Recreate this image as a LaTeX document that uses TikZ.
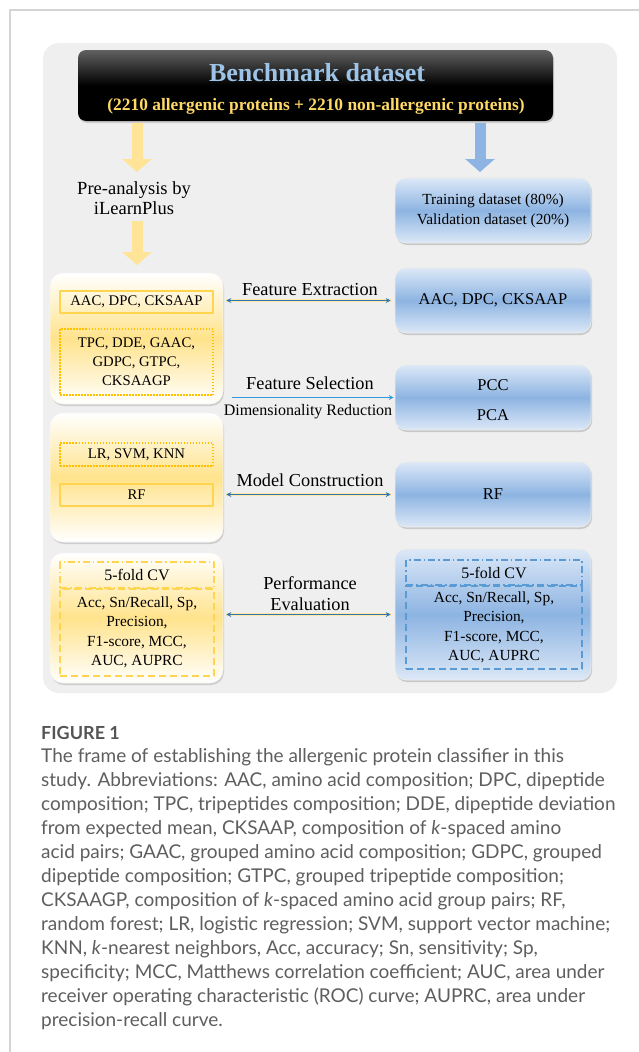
\documentclass[tikz,border=0pt]{standalone}
\usepackage{fontspec}
\setmainfont{Liberation Serif}
\newfontfamily\capfont{Lato}
\usetikzlibrary{arrows.meta,shadows}
\definecolor{panelgray}{HTML}{EFEFEF}
\definecolor{frameline}{HTML}{D4D4D4}
\definecolor{benchblue}{HTML}{9DC3E6}
\definecolor{benchgold}{HTML}{FFD966}
\definecolor{arrowY}{HTML}{FFE497}
\definecolor{arrowB}{HTML}{8EB4E3}
\definecolor{boxY}{HTML}{FFE38C}
\definecolor{boxBtop}{HTML}{DCE8F7}
\definecolor{boxBmid}{HTML}{8DB4E2}
\definecolor{lineY}{HTML}{FFD54F}
\definecolor{dotY}{HTML}{FFC000}
\definecolor{dashB}{HTML}{5B9BD5}
\definecolor{linkblue}{HTML}{2E75B6}
\definecolor{selblue}{HTML}{2F9BDD}
\definecolor{glowY}{HTML}{FFE8A3}
\definecolor{captext}{HTML}{5E5E5E}
\begin{document}
\begin{tikzpicture}[x=1pt,y=-1pt,line join=round,
    ybox/.style={rounded corners=13pt,top color=white,bottom color=white,middle color=boxY,
        draw=white!92!gray,line width=.6pt,inner sep=0pt,minimum width=173pt,
        drop shadow={shadow xshift=1pt,shadow yshift=-2pt,opacity=.3}},
    bbox/.style={rounded corners=11pt,top color=boxBtop,bottom color=boxBtop,middle color=boxBmid,
        draw=white!85!gray,line width=.6pt,inner sep=0pt,minimum width=196pt,
        drop shadow={shadow xshift=1pt,shadow yshift=-2pt,opacity=.35},
        font=\fontsize{16.5}{20}\selectfont},
    solidY/.style={draw=lineY,line width=1.3pt,minimum width=153pt,inner sep=0pt,
        font=\fontsize{14.7}{19}\selectfont},
    dotbox/.style={solidY,draw=dotY,line width=1.1pt,dash pattern=on 1.5pt off 1.5pt},
    cvbox/.style={draw=#1,line width=1.6pt,dash pattern=on 7pt off 3pt on 1.5pt off 3pt,
        inner sep=0pt,font=\fontsize{16}{19}\selectfont},
    metbox/.style={draw=#1,line width=1.8pt,dash pattern=on 7pt off 4pt,inner sep=0pt,
        align=center,font=\fontsize{15.4}{19.4}\selectfont},
    lbl/.style={font=\fontsize{18.3}{21}\selectfont,align=center,inner sep=0pt},
    fatY/.style={draw=arrowY,line width=11pt,-{Triangle[length=13pt,width=29pt]}},
    fatB/.style={fatY,draw=arrowB},
    link/.style={draw=linkblue,line width=1pt,{Stealth[length=5pt,width=5pt]}-{Stealth[length=5pt,width=5pt]},
        preaction={draw=glowY,line width=3.5pt,-},shorten <=3pt,shorten >=4pt},
    caption/.style={font=\capfont\fontsize{19}{24}\selectfont,text=captext,anchor=west,inner sep=0pt}]
    \useasboundingbox (0,0) rectangle (639,1052);
    % frame and grey panel
    \draw[frameline,line width=1.5pt] (639,10) -- (10,10) -- (10,1052);
    \fill[panelgray,rounded corners=16pt] (43,43) rectangle (617,693);
    % dataset
    \node[rounded corners=8pt,top color=black!62,bottom color=black,middle color=black,
        minimum width=475pt,minimum height=71pt,inner sep=0pt,
        drop shadow={shadow xshift=1pt,shadow yshift=-2pt,opacity=.3}] (bench) at (315.5,85.5) {};
    \node[text=benchblue,font=\bfseries\fontsize{26}{28}\selectfont,inner sep=0pt] (benchT) at (317,73) {Benchmark dataset};
    \node[text=benchgold,font=\bfseries\fontsize{17.4}{20}\selectfont,inner sep=0pt] (benchS) at (316,106)
        {(2210 allergenic proteins + 2210 non-allergenic proteins)};
    \node[align=center,font=\fontsize{18.5}{20}\selectfont,inner sep=2pt] (pre) at (134,198) {Pre-analysis by\\iLearnPlus};
    \node[bbox,minimum height=65pt,align=center,font=\fontsize{15.4}{20}\selectfont] (train) at (493,210.5)
        {Training dataset (80\%)\\Validation dataset (20\%)};
    % left column
    \node[ybox,minimum height=131pt] (lb1) at (136.5,338.5) {};
    \node[ybox,minimum height=129pt] (lb2) at (136.5,477.5) {};
    \node[ybox,minimum height=130pt] (lb3) at (136.5,618) {};
    \node[solidY,minimum height=22pt] (aacL) at (136.5,302) {AAC, DPC, CKSAAP};
    \node[dotbox,minimum height=66pt,align=center] (grpL) at (136.5,362) {TPC, DDE, GAAC,\\GDPC, GTPC,\\CKSAAGP};
    \node[dotbox,minimum height=23pt] (lrL) at (136.5,454.5) {LR, SVM, KNN};
    \node[solidY,minimum height=22pt] (rfL) at (136.5,495) {RF};
    \node[cvbox=lineY,minimum width=154pt,minimum height=26pt] (cvL) at (137,575) {5-fold CV};
    \node[metbox=lineY,minimum width=154pt,minimum height=87pt] (metL) at (137,632.5)
        {Acc, Sn/Recall, Sp,\\Precision,\\F1-score, MCC,\\AUC, AUPRC};
    % right column
    \node[bbox,minimum height=65pt] (aacR) at (493,300.5) {AAC, DPC, CKSAAP};
    \node[bbox,minimum height=65pt] (selR) at (493,397.5) {};
    \node[font=\fontsize{16.5}{20}\selectfont,inner sep=0pt] (pcc) at (493,385) {PCC};
    \node[font=\fontsize{16.5}{20}\selectfont,inner sep=0pt] (pca) at (493,415) {PCA};
    \node[bbox,minimum height=65pt] (rfR) at (493,494.5) {RF};
    \node[bbox,minimum height=131pt] (evalR) at (493,614.5) {};
    \node[cvbox=dashB,minimum width=176pt,minimum height=25pt] (cvR) at (494,572.5) {5-fold CV};
    \node[metbox=dashB,minimum width=176pt,minimum height=83pt] (metR) at (494,627.5)
        {Acc, Sn/Recall, Sp,\\Precision,\\F1-score, MCC,\\AUC, AUPRC};
    % steps
    \node[lbl] (fe) at (310,290) {Feature Extraction};
    \node[lbl] (fs) at (310,383) {Feature Selection};
    \node[lbl,font=\fontsize{16}{20}\selectfont] (dr) at (308,412) {Dimensionality Reduction};
    \node[lbl] (mc) at (310,480) {Model Construction};
    \node[lbl] (pe) at (310,593.5) {Performance\\Evaluation};
    % arrows
    \coordinate (yTip1) at (137,172);
    \coordinate (yTip2) at (137,265);
    \coordinate (bTip) at (480,172);
    \draw[fatY,shorten <=2pt] (bench.south -| yTip1) -- (yTip1);
    \draw[fatY,shorten <=4pt] (pre.south -| yTip2) -- (yTip2);
    \draw[fatB,shorten <=2pt] (bench.south -| bTip) -- (bTip);
    \draw[link] (lb1.east |- aacR.west) -- (aacR.west);
    \draw[selblue,line width=1pt,-{Stealth[length=5pt,width=5pt]},shorten <=9pt,shorten >=1pt] (lb1.east |- selR.west) -- (selR.west);
    \draw[link] (lb2.east |- rfR.west) -- (rfR.west);
    \draw[link] (lb3.east |- evalR.west) -- (evalR.west);
    % caption
    \node[caption,font=\capfont\bfseries\fontsize{18}{24}\selectfont,text=captext!90!black] (fig) at (41,733) {FIGURE 1};
    \foreach \t [count=\i] in {
        {The frame of establishing the allergenic protein classifier in this},
        {study. Abbreviations: AAC, amino acid composition; DPC, dipeptide},
        {composition; TPC, tripeptides composition; DDE, dipeptide deviation},
        {from expected mean, CKSAAP, composition of \textit{k}-spaced amino},
        {acid pairs; GAAC, grouped amino acid composition; GDPC, grouped},
        {dipeptide composition; GTPC, grouped tripeptide composition;},
        {CKSAAGP, composition of \textit{k}-spaced amino acid group pairs; RF,},
        {random forest; LR, logistic regression; SVM, support vector machine;},
        {KNN, \textit{k}-nearest neighbors, Acc, accuracy; Sn, sensitivity; Sp,},
        {specificity; MCC, Matthews correlation coefficient; AUC, area under},
        {receiver operating characteristic (ROC) curve; AUPRC, area under},
        {precision-recall curve.}}
        \node[caption] (cap\i) at (41,733+24*\i) {\t};
\end{tikzpicture}
\end{document}
